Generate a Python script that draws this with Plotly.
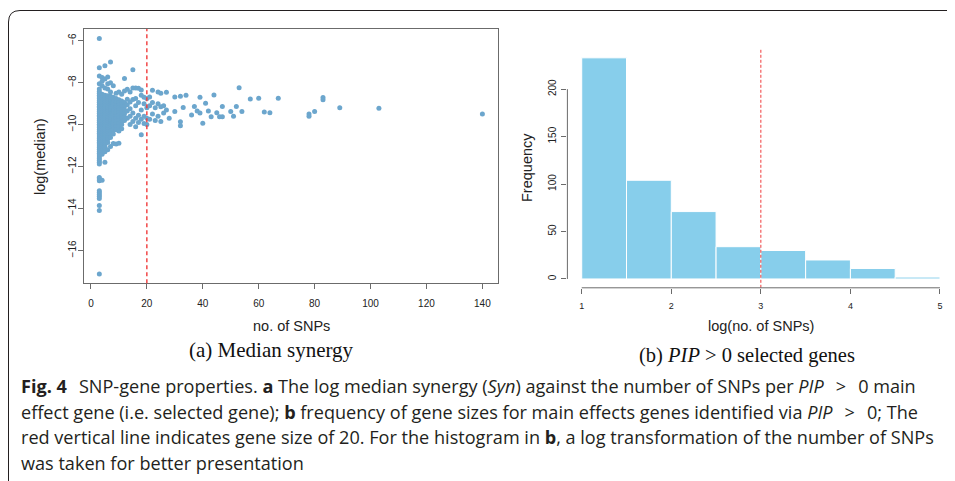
import plotly.graph_objects as go

# ---------------- Panel (a): log(median synergy) vs number of SNPs ----------------
# dense columns (one list of log(median) values per SNP count)
y_snp3 = [-8.42, -8.51, -8.6, -8.68, -8.77, -8.86, -8.94, -9.03, -9.12, -9.2, -9.29, -9.38,
          -9.46, -9.55, -9.63, -9.72, -9.81, -9.89, -9.98, -10.07, -10.15, -10.24, -10.33,
          -10.41, -10.5, -10.59, -10.67, -10.76, -10.85, -10.93, -11.02, -11.11, -11.19,
          -11.28, -11.37, -11.45, -11.54, -11.63, -11.71, -11.8, -11.88,
          -5.89, -7.29, -7.68, -8.05, -8.3, -12.52, -12.6, -12.68, -13.16, -13.24, -13.33,
          -13.42, -13.52, -13.86, -14.1, -17.12]
y_snp4 = [-8.55, -8.63, -8.72, -8.8, -8.89, -8.97, -9.06, -9.15, -9.23, -9.32, -9.41, -9.49,
          -9.58, -9.66, -9.75, -9.84, -9.92, -10.01, -10.1, -10.18, -10.27, -10.36, -10.44,
          -10.53, -10.62, -10.7, -10.79, -10.88, -10.96, -11.05, -11.14, -11.22, -11.31, -11.42,
          -7.75, -7.93, -8.15, -12.66]
y_snp5 = [-8.6, -8.69, -8.78, -8.86, -8.95, -9.04, -9.12, -9.21, -9.3, -9.38, -9.47, -9.56,
          -9.64, -9.73, -9.82, -9.9, -9.99, -10.08, -10.16, -10.25, -10.34, -10.42, -10.51,
          -10.6, -10.68, -10.77, -10.86, -10.95, -11.05, -11.1,
          -7.19, -7.82, -8.26, -11.3, -11.8]
y_snp6 = [-8.62, -8.7, -8.79, -8.88, -8.96, -9.05, -9.14, -9.22, -9.31, -9.4, -9.48, -9.57,
          -9.66, -9.74, -9.83, -9.92, -10.0, -10.09, -10.18, -10.26, -10.35, -10.44, -10.52,
          -10.61, -10.7, -10.85,
          -7.73, -8.05, -8.3, -11.2]
y_snp7 = [-8.65, -8.73, -8.82, -8.91, -8.99, -9.08, -9.17, -9.25, -9.34, -9.43, -9.51, -9.6,
          -9.69, -9.77, -9.86, -9.95, -10.03, -10.12, -10.21, -10.32, -10.45, -10.62,
          -7.01, -8.0, -8.45, -11.05]
y_snp8 = [-8.7, -8.78, -8.87, -8.96, -9.04, -9.13, -9.22, -9.3, -9.39, -9.48, -9.56, -9.65,
          -9.74, -9.82, -9.91, -10.0, -10.12, -10.25, -10.45,
          -8.15, -10.9]
y_snp9 = [-8.75, -8.84, -8.93, -9.02, -9.1, -9.19, -9.28, -9.36, -9.45, -9.54, -9.63, -9.72,
          -9.84, -9.97, -10.1, -10.25,
          -8.5, -10.92]
y_snp10 = [-8.82, -8.95, -9.08, -9.2, -9.3, -9.42, -9.55, -9.68, -9.82, -9.95, -10.1,
           -8.45, -10.89, -10.3]
y_snp11 = [-8.88, -9.02, -9.15, -9.28, -9.4, -9.55, -9.7, -9.85, -10.0, -8.55, -10.2]
y_snp12 = [-8.95, -9.12, -9.3, -9.48, -9.65, -9.8, -7.8, -8.4]

# sparse points (13 or more SNPs)
sparse_snps = [13, 13, 13, 13, 13, 14, 14, 14, 14, 14, 15, 15, 15, 15, 15,
               16, 16, 16, 16, 16, 17, 17, 17, 17, 18, 18, 18, 18, 18,
               19, 19, 19, 19, 20, 20, 20, 20, 21, 21, 21, 22, 22, 22, 23, 23,
               24, 24, 24, 25, 25, 25, 26, 26, 27, 27, 28, 30, 30, 32, 32, 32, 33, 34,
               36, 37, 38, 39, 39, 40, 41, 42, 43, 44, 45, 46, 47, 47, 50, 51, 52, 53,
               54, 57, 60, 62, 64, 67, 78, 78, 80, 83, 83, 89, 103, 140]
sparse_logmed = [-8.31, -8.79, -9.05, -9.35, -9.7, -8.45, -8.92, -9.25, -9.6, -10.0,
                 -7.38, -8.25, -8.8, -9.45, -9.85, -8.25, -8.75, -9.1, -9.7, -10.1,
                 -8.27, -8.95, -9.55, -9.9, -8.35, -8.6, -9.3, -9.75, -10.49,
                 -8.7, -9.0, -9.6, -9.95, -8.75, -9.2, -9.7, -10.0, -8.68, -9.1, -9.75,
                 -8.36, -8.95, -9.5, -9.2, -9.8, -8.45, -9.0, -9.6, -8.5, -9.15, -9.85,
                 -9.1, -9.45, -8.46, -9.3, -9.7, -8.68, -9.38, -8.65, -9.86, -10.06, -9.19,
                 -8.6, -9.54, -9.14, -9.35, -8.7, -9.45, -9.93, -8.98, -9.35, -9.62, -8.59,
                 -9.43, -9.62, -9.62, -9.14, -9.38, -9.6, -9.14, -8.24, -9.38, -8.78, -8.74,
                 -9.4, -9.44, -8.74, -9.5, -9.6, -9.38, -8.71, -8.82, -9.2, -9.22, -9.49]

scatter_xticks = [0, 20, 40, 60, 80, 100, 120, 140]
scatter_yticks = [-16, -14, -12, -10, -8, -6]
gene_size_cut = 20

# ---------------- Panel (b): histogram of log(no. of SNPs) ----------------
bin_edges = [1.0, 1.5, 2.0, 2.5, 3.0, 3.5, 4.0, 4.5, 5.0]
frequency = [233, 104, 71, 34, 30, 20, 11, 2]
hist_xticks = [1, 2, 3, 4, 5]
hist_yticks = [0, 50, 100, 150, 200]
log_cut = 3

# ---------------- assemble ----------------
dense_cols = [(3, y_snp3), (4, y_snp4), (5, y_snp5), (6, y_snp6), (7, y_snp7),
              (8, y_snp8), (9, y_snp9), (10, y_snp10), (11, y_snp11), (12, y_snp12)]
snps, log_median = [], []
for k, ys in dense_cols:
    snps += [k] * len(ys)
    log_median += ys
snps += sparse_snps
log_median += sparse_logmed

centers = [(a + b) / 2 for a, b in zip(bin_edges[:-1], bin_edges[1:])]
widths = [b - a for a, b in zip(bin_edges[:-1], bin_edges[1:])]


def rrange(lo, hi):
    s = hi - lo
    return [lo - 0.04 * s, hi + 0.04 * s]


# the page body adds an 8px margin, so the figure is drawn 8px in from the window corner
OFF = 8
W, H = 955 - OFF, 481 - OFF


def px(x):
    return (x - OFF) / W


def py(y):
    return 1 - (y - OFF) / H


AX = "#6b6b6b"
TXT = "#222222"
SANS = "Liberation Sans, Arial, sans-serif"
SERIF = "Liberation Serif, Times New Roman, serif"
CAP = "Open Sans, Noto Sans, sans-serif"

fig = go.Figure()
fig.add_trace(go.Scatter(x=snps, y=log_median, mode="markers",
                         marker=dict(size=5, color="#6CA6CD"),
                         xaxis="x", yaxis="y", showlegend=False, hoverinfo="skip"))
fig.add_trace(go.Bar(x=centers, y=frequency, width=widths,
                     marker=dict(color="#87CEEB", line=dict(color="white", width=1)),
                     xaxis="x2", yaxis="y2", showlegend=False, hoverinfo="skip"))

common = dict(showgrid=False, zeroline=False, ticks="outside", ticklen=5,
              tickcolor=AX, tickwidth=1, automargin=False)

fig.update_layout(
    width=W, height=H, margin=dict(l=0, r=0, t=0, b=0),
    paper_bgcolor="white", plot_bgcolor="white",
    xaxis=dict(domain=[px(84), px(497.7)], anchor="y",
               range=rrange(min(snps), max(snps)),
               tickvals=scatter_xticks, ticktext=[str(v) for v in scatter_xticks],
               showline=True, mirror=True, linecolor=AX, linewidth=1,
               ticklabelstandoff=6,
               tickfont=dict(family=SANS, size=10, color=TXT), **common),
    yaxis=dict(domain=[py(283.3), py(29)], anchor="x",
               range=rrange(min(log_median), max(log_median)),
               tickvals=scatter_yticks, ticktext=["\u2212" + str(abs(v)) for v in scatter_yticks],
               tickangle=-90, ticklabelstandoff=-2,
               showline=True, mirror=True, linecolor=AX, linewidth=1,
               tickfont=dict(family=SANS, size=10, color=TXT), **common),
    xaxis2=dict(domain=[px(567.4), px(954.3)], anchor="y2",
                range=rrange(bin_edges[0], bin_edges[-1]),
                tickvals=hist_xticks, ticktext=[str(v) for v in hist_xticks],
                showline=False, ticklabelstandoff=4,
                tickfont=dict(family=SANS, size=9, color=TXT), **common),
    yaxis2=dict(domain=[py(287.8), py(49)], anchor="x2",
                range=rrange(0, max(frequency)),
                tickvals=hist_yticks, ticktext=[str(v) for v in hist_yticks],
                tickangle=-90, showline=False, ticklabelstandoff=1,
                tickfont=dict(family=SANS, size=10, color=TXT), **common),
)

shapes = []
# red dashed lines
shapes.append(dict(type="line", xref="x", yref="y domain", x0=gene_size_cut, x1=gene_size_cut,
                   y0=0, y1=1, line=dict(color="#f03a3a", width=1.4, dash="4px,3px")))
shapes.append(dict(type="line", xref="x2", yref="y2 domain", x0=log_cut, x1=log_cut,
                   y0=0, y1=1, line=dict(color="#f03a3a", width=1, dash="3px,2px")))
# histogram axis lines (R style: only between first and last tick)
shapes.append(dict(type="line", xref="x2", yref="y2 domain", x0=hist_xticks[0], x1=hist_xticks[-1],
                   y0=0, y1=0, line=dict(color=AX, width=1)))
shapes.append(dict(type="line", xref="x2 domain", yref="y2", x0=0, x1=0,
                   y0=hist_yticks[0], y1=hist_yticks[-1], line=dict(color=AX, width=1)))
# rounded outer frame
xl, yt = px(8.5), py(10.5)
shapes.append(dict(type="path", xref="paper", yref="paper",
                   path=f"M {xl},-0.05 L {xl},{py(22)} Q {xl},{yt} {px(20)},{yt} L 1.05,{yt}",
                   line=dict(color="#231f20", width=1)))
fig.update_layout(shapes=shapes)


def label(text, x, y, size, family=SANS, color=TXT, angle=0, xanchor="center"):
    return dict(text=text, x=px(x), y=py(y), xref="paper", yref="paper",
                xanchor=xanchor, yanchor="middle", showarrow=False, textangle=angle,
                font=dict(family=family, size=size, color=color))


ann = [
    label("no. of SNPs", 291, 326, 14.5),
    label("log(median)", 40, 156, 14.5, angle=-90),
    label("log(no. of SNPs)", 761, 326, 14.5),
    label("Frequency", 527, 168, 14.5, angle=-90),
    label("(a) Median synergy", 271, 350, 21, family=SERIF, color="#111111"),
    label("(b) <i>PIP</i> &gt; 0 selected genes", 746.5, 355, 20.5, family=SERIF, color="#111111"),
]

SP = "\u2002\u2009"  # wider (math-like) spacing around ">"
cap_lines = [
    "<b>Fig. 4</b>" + SP + "SNP-gene properties. <b>a</b> The log median synergy (<i>Syn</i>) against the number of SNPs per <i>PIP</i>" + SP + "&gt;" + SP + "0 main",
    "effect gene (i.e. selected gene); <b>b</b> frequency of gene sizes for main effects genes identified via <i>PIP</i>" + SP + "&gt;" + SP + "0; The",
    "red vertical line indicates gene size of 20. For the histogram in <b>b</b>, a log transformation of the number of SNPs",
    "was taken for better presentation",
]
cap_y = [386, 411.5, 437, 462.5]
for t, yy in zip(cap_lines, cap_y):
    ann.append(label(t, 19, yy, 18.1, family=CAP, color="#231f20", xanchor="left"))
fig.update_layout(annotations=ann)

fig.write_html("out.html")
